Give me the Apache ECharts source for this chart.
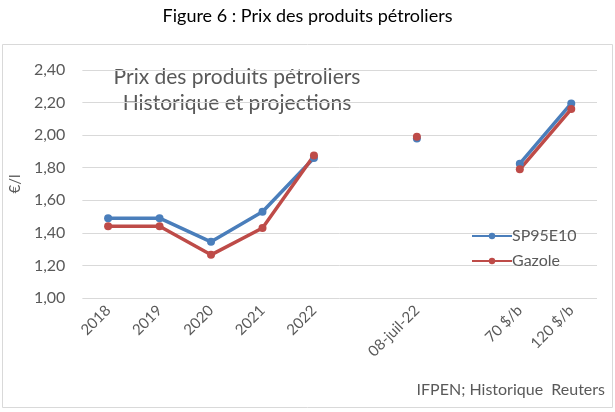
<!DOCTYPE html>
<html><head><meta charset="utf-8">
<script src="https://cdn.jsdelivr.net/npm/echarts@6/dist/echarts.min.js"></script>
<style>html,body{margin:0;padding:0;background:#fff}#c{width:615px;height:412px}</style>
</head><body><div id="c"></div>
<script>
const categories = ['2018','2019','2020','2021','2022','','08-juil-22','','70 $/b','120 $/b'];
const sp95e10 = [1.49,1.49,1.345,1.53,1.86,null,1.98,null,1.825,2.195];
const gazole  = [1.44,1.44,1.265,1.43,1.875,null,1.99,null,1.79,2.16];
const yTicks = {min:1, max:2.4, interval:0.2};
const FONT = 'Lato';
const chart = echarts.init(document.getElementById('c'));
chart.setOption({
  animation:false,
  textStyle:{fontFamily:FONT},
  graphic:[
    {type:'rect',shape:{x:2.5,y:44.5,width:610,height:363},style:{fill:'none',stroke:'#d9d9d9',lineWidth:1},z:-1},
    {type:'text',left:'center',top:7,style:{text:'Figure 6 : Prix des produits pétroliers',font:'18px '+FONT,fill:'#000'}},
    {type:'text',x:237,y:64,style:{text:'Prix des produits pétroliers\nHistorique et projections',font:'21px '+FONT,fill:'#595959',align:'center',lineHeight:26}},
    {type:'text',x:605,y:382,style:{text:'IFPEN; Historique  Reuters',font:'16px '+FONT,fill:'#595959',align:'right'}}
  ],
  legend:{
    orient:'vertical',left:466,top:223,itemGap:9,itemWidth:40,itemHeight:8,
    textStyle:{fontSize:16,color:'#595959',fontFamily:FONT,padding:[0,0,0,-5]},
    data:['SP95E10','Gazole']
  },
  grid:{left:81,right:18,top:70,bottom:114,containLabel:false},
  xAxis:{
    type:'category',data:categories,boundaryGap:true,
    axisLine:{show:false},axisTick:{show:false},
    axisLabel:{interval:0,rotate:45,margin:10,fontSize:15,color:'#595959',fontFamily:FONT}
  },
  yAxis:{
    type:'value',min:yTicks.min,max:yTicks.max,interval:yTicks.interval,
    name:'€/l',nameLocation:'middle',nameGap:58,nameTextStyle:{fontSize:15,color:'#595959',fontFamily:FONT},
    axisLine:{show:false},axisTick:{show:false},
    axisLabel:{margin:17,fontSize:16,color:'#595959',fontFamily:FONT,formatter:v=>v.toFixed(2).replace('.',',')},
    splitLine:{lineStyle:{color:'#d9d9d9',width:1}}
  },
  series:[
    {name:'SP95E10',type:'line',data:sp95e10,connectNulls:false,symbol:'circle',symbolSize:8,showAllSymbol:true,
     itemStyle:{color:'#4a7ebb'},lineStyle:{width:3.5,color:'#4a7ebb'}},
    {name:'Gazole',type:'line',data:gazole,connectNulls:false,symbol:'circle',symbolSize:8,showAllSymbol:true,
     itemStyle:{color:'#be4b48'},lineStyle:{width:3.5,color:'#be4b48'}}
  ]
});
</script></body></html>
